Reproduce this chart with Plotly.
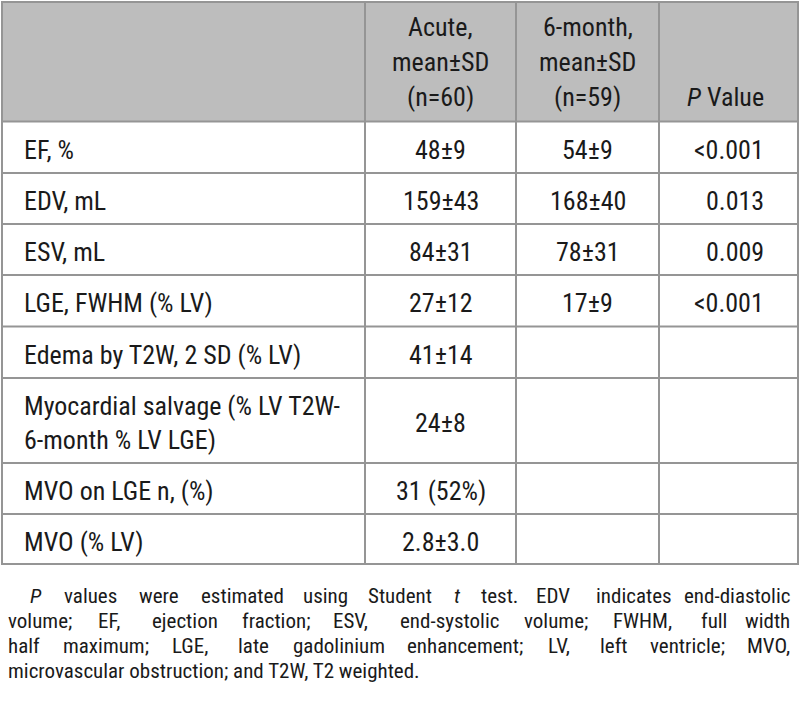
import plotly.graph_objects as go

# ---------------- data ----------------
header = ["", "Acute,<br>mean±SD<br>(n=60)", "6-month,<br>mean±SD<br>(n=59)", "<br><br><i>P</i> Value"]
row_labels = [
    "EF, %",
    "EDV, mL",
    "ESV, mL",
    "LGE, FWHM (% LV)",
    "Edema by T2W, 2 SD (% LV)",
    "Myocardial salvage (% LV T2W-<br>6-month % LV LGE)",
    "MVO on LGE n, (%)",
    "MVO (% LV)",
]
acute_vals = ["48±9", "159±43", "84±31", "27±12", "41±14", "24±8", "31 (52%)", "2.8±3.0"]
month6_vals = ["54±9", "168±40", "78±31", "17±9", "", "", "", ""]
p_vals = ["<0.001", "0.013", "0.009", "<0.001", "", "", "", ""]
footnote_lines = [
    "*P* values were estimated using Student *t* test. EDV indicates end-diastolic",
    "volume; EF, ejection fraction; ESV, end-systolic volume; FWHM, full width",
    "half maximum; LGE, late gadolinium enhancement; LV, left ventricle; MVO,",
    "microvascular obstruction; and T2W, T2 weighted.",
]

# ---------------- layout geometry ----------------
W, H = 800, 709
FONT = "Roboto Condensed, Liberation Sans Narrow, Arial Narrow, Roboto, sans-serif"
TXT = "#1a1a1a"
GRID = "#959595"
HEAD_FILL = "#bdbdbd"
FS = 26
FS_NOTE = 21
DY = 2.5  # optical vertical offset of text

col_x = [2, 365, 516, 659, 798]
row_y = [2, 121.5, 173, 224, 275, 326.5, 378, 463, 514, 564]

fig = go.Figure()
fig.add_trace(go.Scatter(x=[0, W], y=[0, H], mode="markers", marker=dict(opacity=0),
                         hoverinfo="skip", showlegend=False))

shapes = []
shapes.append(dict(type="rect", xref="x", yref="y", x0=col_x[0], x1=col_x[-1], y0=row_y[0], y1=row_y[1],
                   fillcolor=HEAD_FILL, line=dict(width=0), layer="below"))
for y in row_y:
    shapes.append(dict(type="line", xref="x", yref="y", x0=col_x[0] - 1, x1=col_x[-1] + 1, y0=y, y1=y,
                       line=dict(color=GRID, width=2)))
for x in col_x:
    shapes.append(dict(type="line", xref="x", yref="y", x0=x, x1=x, y0=row_y[0], y1=row_y[-1],
                       line=dict(color=GRID, width=2)))

ann = []
def add(text, x, y, xa="center", size=FS, spacing=34.5):
    lines = text.split("<br>")
    n = len(lines)
    for k, ln in enumerate(lines):
        if not ln:
            continue
        yy = y + (k - (n - 1) / 2) * spacing + DY
        ann.append(dict(text=ln, x=x, y=yy, xref="x", yref="y", xanchor=xa, yanchor="middle",
                        showarrow=False, font=dict(family=FONT, size=size, color=TXT)))

# header
hy = 62 - DY
add(header[1], (col_x[1] + col_x[2]) / 2, hy, spacing=35)
add(header[2], (col_x[2] + col_x[3]) / 2, hy, spacing=35)
add(header[3], col_x[4] - 32, hy, xa="right", spacing=35)

for i, lab in enumerate(row_labels):
    yc = (row_y[i + 1] + row_y[i + 2]) / 2
    add(lab, 22, yc, xa="left", spacing=34)
    add(acute_vals[i], (col_x[1] + col_x[2]) / 2, yc)
    if month6_vals[i]:
        add(month6_vals[i], (col_x[2] + col_x[3]) / 2, yc)
    if p_vals[i]:
        add(p_vals[i], col_x[4] - 32, yc, xa="right")

# ---------------- justified footnote ----------------
AW = {}
for c in "il.,;:'|j": AW[c] = 0.222
for c in "ft I": AW[c] = 0.278
for c in "r()-": AW[c] = 0.333
for c in "cksvxyz": AW[c] = 0.5
for c in "abdeghnopqu0123456789L": AW[c] = 0.556
for c in "FTZ": AW[c] = 0.611
for c in "ABEKPSVXY": AW[c] = 0.667
for c in "CDHNRUw": AW[c] = 0.722
for c in "GOQ": AW[c] = 0.778
for c in "Mm": AW[c] = 0.833
AW["W"] = 0.944
AW["%"] = 0.889

def width(word, size):
    return sum(AW.get(c, 0.556) for c in word.replace("*", "")) * 0.877 * size

def fmt(word):
    out, ital = "", False
    for c in word:
        if c == "*":
            out += "</i>" if ital else "<i>"
            ital = not ital
        else:
            out += c
    return out

note_y = [596, 621, 646, 671]
left_x = [28, 6, 6, 6]
right_x = 792
for li, line in enumerate(footnote_lines):
    words = line.split(" ")
    y = note_y[li]
    if li == len(footnote_lines) - 1:
        ann.append(dict(text=fmt(line), x=left_x[li], y=y, xref="x", yref="y", xanchor="left", yanchor="middle",
                        showarrow=False, font=dict(family=FONT, size=FS_NOTE, color=TXT)))
        continue
    ws = [width(w, FS_NOTE) for w in words]
    gap = (right_x - left_x[li] - sum(ws)) / (len(words) - 1)
    x = left_x[li]
    for k, w in enumerate(words):
        if k == len(words) - 1:
            ann.append(dict(text=fmt(w), x=right_x, y=y, xref="x", yref="y", xanchor="right", yanchor="middle",
                            showarrow=False, font=dict(family=FONT, size=FS_NOTE, color=TXT)))
        else:
            ann.append(dict(text=fmt(w), x=x, y=y, xref="x", yref="y", xanchor="left", yanchor="middle",
                            showarrow=False, font=dict(family=FONT, size=FS_NOTE, color=TXT)))
        x += ws[k] + gap

fig.update_layout(
    width=W, height=H, margin=dict(l=0, r=0, t=0, b=0),
    paper_bgcolor="white", plot_bgcolor="white",
    xaxis=dict(range=[0, W], visible=False, fixedrange=True),
    yaxis=dict(range=[H, 0], visible=False, fixedrange=True),
    shapes=shapes, annotations=ann, showlegend=False,
)
fig.write_html("out.html", config={"displayModeBar": False},
               post_script="document.body.style.margin='0';")
